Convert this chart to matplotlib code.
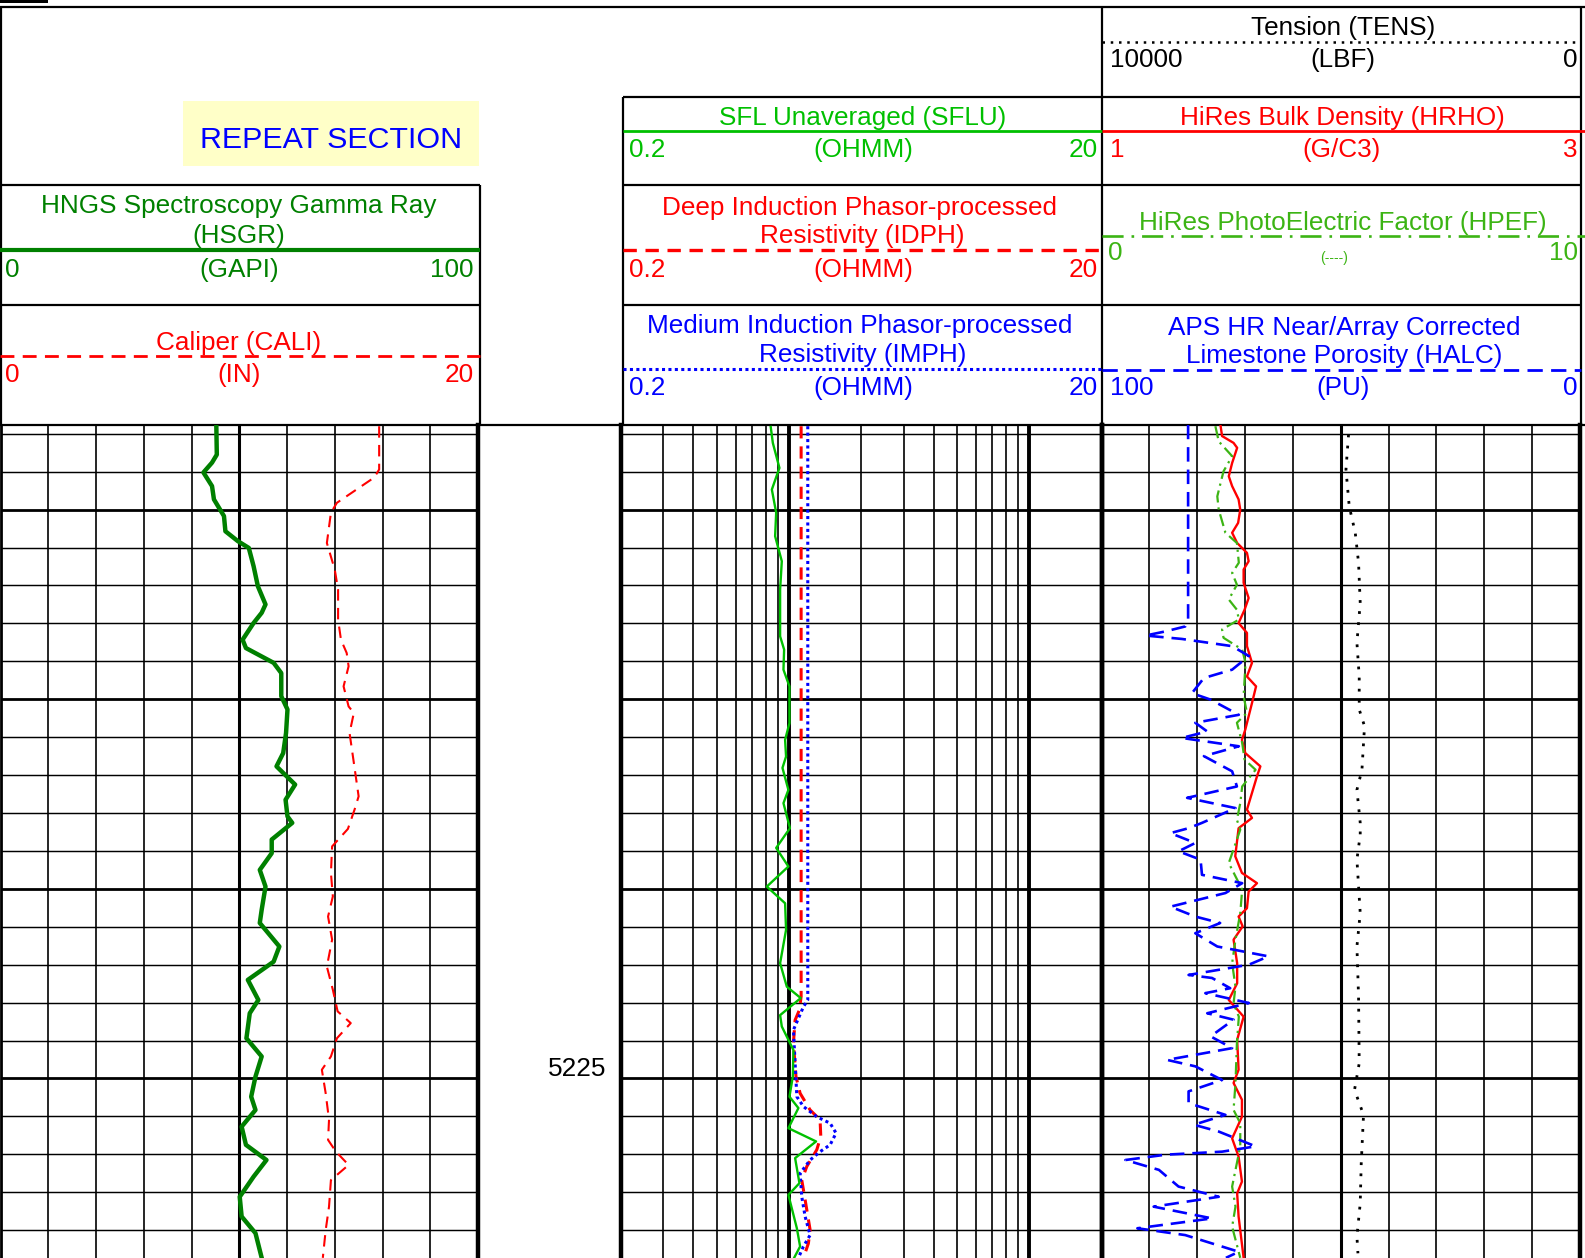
import numpy as np
import matplotlib
matplotlib.use("Agg")
import matplotlib.pyplot as plt
from matplotlib.patches import Rectangle

plt.rcParams["font.family"] = ["Liberation Sans", "DejaVu Sans"]

W, H = 1585, 1258
TOP, BOT = 5207.755, 5229.734   # depth (ft) at top / bottom of the log grid
DEPTH_LABELS = [5225]

# ---------- curves (depth ft, value) ----------
gr_d = [5207.80, 5208.55, 5208.76, 5209.02, 5209.38, 5209.73, 5210.17, 5210.57, 5210.83, 5211.01,
        5211.49, 5212.02, 5212.50, 5212.72, 5212.99, 5213.43, 5213.65, 5214.04, 5214.31, 5214.92,
        5215.27, 5215.89, 5216.42, 5216.77, 5217.25, 5217.65, 5218.09, 5218.26, 5218.70, 5219.06,
        5219.50, 5219.94, 5220.55, 5220.90, 5221.52, 5221.92, 5222.40, 5222.93, 5223.28, 5223.94,
        5224.42, 5224.95, 5225.48, 5225.83, 5226.27, 5226.75, 5227.15, 5227.59, 5228.12, 5228.64,
        5229.08, 5229.73]
gr_v = [45.2, 45.3, 44.3, 42.5, 44.3, 44.7, 46.8, 47.1, 49.7, 52.0,
        53.0, 53.9, 55.5, 54.7, 53.0, 50.7, 51.4, 57.2, 58.8, 58.8,
        60.1, 59.8, 59.2, 57.8, 61.7, 59.7, 60.1, 61.1, 56.8, 56.8,
        54.3, 55.5, 54.7, 54.3, 58.4, 57.2, 51.8, 54.0, 52.2, 51.5,
        54.7, 53.4, 52.5, 53.4, 50.5, 51.4, 55.7, 53.0, 50.1, 50.5,
        53.4, 54.7]

cali_d = [5207.80, 5208.94, 5209.15, 5209.82, 5210.08, 5210.88, 5211.58, 5212.11, 5212.90, 5213.43,
          5213.78, 5214.13, 5214.66, 5215.19, 5215.36, 5215.89, 5216.59, 5217.56, 5217.91, 5218.42,
          5218.88, 5219.58, 5220.20, 5220.73, 5221.34, 5222.05, 5222.66, 5223.23, 5223.54, 5223.94,
          5224.42, 5224.77, 5225.39, 5226.09, 5226.62, 5226.93, 5227.28, 5227.68, 5228.38, 5229.00,
          5229.73]
cali_v = [15.86, 15.86, 15.66, 14.09, 13.84, 13.67, 14.00, 14.14, 14.14, 14.26,
          14.50, 14.58, 14.37, 14.58, 14.80, 14.62, 14.78, 15.00, 14.83, 14.55,
          13.89, 13.84, 13.92, 13.72, 13.89, 13.67, 13.92, 14.12, 14.67, 14.09,
          13.84, 13.46, 13.62, 13.76, 13.72, 14.05, 14.58, 13.84, 13.76, 13.62,
          13.50]

sflu_d = [5207.82, 5208.24, 5208.90, 5209.47, 5210.08, 5210.70, 5211.36, 5212.11, 5213.34, 5213.69,
          5214.22, 5214.66, 5215.63, 5216.07, 5216.51, 5216.81, 5217.39, 5217.74, 5218.40, 5218.92,
          5219.41, 5219.94, 5220.38, 5221.08, 5221.96, 5222.58, 5222.88, 5223.33, 5223.63, 5224.25,
          5224.95, 5225.48, 5225.78, 5226.31, 5226.66, 5227.10, 5227.76, 5228.07, 5228.95, 5229.43,
          5229.73]
sflu_v = [0.840, 0.857, 0.913, 0.849, 0.885, 0.876, 0.934, 0.919, 0.919, 0.955,
          0.949, 1.005, 1.005, 0.964, 0.973, 0.940, 0.995, 0.949, 1.010, 0.885,
          0.995, 0.809, 0.964, 0.973, 0.919, 0.980, 1.120, 0.919, 0.934, 1.044,
          1.038, 1.005, 1.095, 0.995, 1.297, 1.061, 1.106, 0.995, 1.079, 1.113,
          1.051]

idph_d = [5207.80, 5222.84, 5223.19, 5223.46, 5224.07, 5224.95, 5225.39, 5225.83, 5226.09, 5226.53,
          5226.88, 5227.32, 5227.68, 5228.20, 5228.99, 5229.35, 5229.73]
idph_v = [1.124, 1.124, 1.106, 1.061, 1.044, 1.070, 1.113, 1.225, 1.348, 1.357,
          1.306, 1.187, 1.131, 1.168, 1.225, 1.205, 1.149]

imph_d = [5207.80, 5222.93, 5223.11, 5223.72, 5224.60, 5225.48, 5225.74, 5226.01, 5226.18, 5226.44,
          5226.75, 5226.93, 5227.15, 5227.50, 5228.12, 5228.64, 5229.13, 5229.43, 5229.73]
imph_v = [1.198, 1.198, 1.149, 1.044, 1.061, 1.079, 1.149, 1.306, 1.484, 1.571,
          1.484, 1.348, 1.225, 1.113, 1.131, 1.168, 1.225, 1.149, 1.095]

hrho_d = [5207.76, 5208.06, 5208.24, 5208.37, 5208.77, 5209.12, 5209.38, 5209.73, 5210.00, 5210.35,
          5210.61, 5210.88, 5211.14, 5211.36, 5211.58, 5211.93, 5212.33, 5212.64, 5212.99, 5213.25,
          5213.60, 5214.04, 5214.40, 5214.66, 5215.10, 5215.80, 5216.07, 5216.42, 5216.77, 5217.03,
          5217.91, 5218.13, 5218.40, 5219.14, 5219.58, 5219.85, 5220.07, 5220.51, 5220.73, 5220.99,
          5221.34, 5221.96, 5222.49, 5222.93, 5223.37, 5223.98, 5224.77, 5225.12, 5225.56, 5226.01,
          5226.58, 5227.06, 5227.72, 5228.03, 5228.64, 5229.73]
hrho_v = [1.497, 1.504, 1.552, 1.567, 1.546, 1.532, 1.546, 1.573, 1.580, 1.571,
          1.546, 1.567, 1.608, 1.615, 1.594, 1.594, 1.615, 1.598, 1.573, 1.608,
          1.608, 1.629, 1.608, 1.646, 1.629, 1.601, 1.587, 1.601, 1.664, 1.650,
          1.608, 1.629, 1.573, 1.559, 1.587, 1.650, 1.615, 1.608, 1.573, 1.590,
          1.552, 1.567, 1.567, 1.532, 1.594, 1.567, 1.573, 1.552, 1.587, 1.587,
          1.546, 1.573, 1.587, 1.567, 1.573, 1.594]

hpef_d = [5207.80, 5208.20, 5208.59, 5208.99, 5209.34, 5209.65, 5210.00, 5210.61, 5210.88, 5211.40,
          5211.67, 5211.98, 5212.37, 5212.64, 5212.90, 5213.16, 5213.38, 5213.69, 5214.04, 5214.92,
          5215.36, 5215.62, 5216.15, 5216.59, 5216.86, 5217.30, 5217.74, 5218.18, 5218.44, 5219.32,
          5220.02, 5220.64, 5221.34, 5221.96, 5222.58, 5223.02, 5223.37, 5224.07, 5225.12, 5225.83,
          5226.18, 5226.79, 5227.85, 5228.38, 5228.91, 5229.73]
hpef_v = [2.38, 2.45, 2.73, 2.55, 2.48, 2.42, 2.45, 2.59, 2.83, 2.87,
          2.73, 2.83, 2.66, 2.83, 2.87, 2.52, 2.55, 2.94, 3.01, 2.97,
          3.04, 2.83, 2.94, 2.99, 3.22, 2.94, 2.90, 2.83, 2.90, 2.66,
          2.94, 2.90, 2.80, 2.73, 2.80, 2.76, 2.87, 2.83, 2.80, 2.76,
          2.90, 2.90, 2.73, 2.80, 2.73, 2.90]

halc_d = [5207.76, 5212.90, 5213.08, 5213.21, 5213.32, 5213.41, 5213.60, 5213.86, 5214.22, 5214.44,
          5214.84, 5215.01, 5215.41, 5215.62, 5215.85, 5216.02, 5216.24, 5216.50, 5216.90, 5217.30,
          5217.60, 5217.87, 5218.26, 5218.40, 5218.53, 5218.79, 5219.01, 5219.23, 5219.63, 5219.85,
          5220.11, 5220.47, 5220.73, 5220.90, 5221.17, 5221.52, 5221.78, 5222.00, 5222.27, 5222.35,
          5222.62, 5222.75, 5223.01, 5223.28, 5223.45, 5223.89, 5224.20, 5224.51, 5224.68, 5225.04,
          5225.34, 5225.65, 5225.96, 5226.22, 5226.40, 5226.79, 5226.93, 5227.01, 5227.15, 5227.41,
          5227.85, 5228.12, 5228.38, 5228.69, 5228.95, 5229.13, 5229.57, 5229.73]
halc_v = [81.9, 81.9, 82.5, 86.6, 90.8, 83.2, 72.7, 69.2, 72.7, 78.6,
          81.1, 77.2, 71.3, 80.4, 77.9, 83.2, 71.3, 78.6, 72.7, 71.7,
          82.1, 72.0, 79.0, 81.8, 85.6, 80.4, 83.9, 79.3, 79.0, 70.6,
          74.1, 85.6, 80.4, 75.2, 80.4, 75.8, 65.1, 69.2, 81.8, 76.9,
          73.1, 78.3, 69.2, 77.9, 72.4, 77.2, 72.7, 86.3, 80.4, 74.8,
          81.8, 81.8, 74.1, 80.7, 75.5, 67.8, 74.8, 86.6, 95.0, 88.0,
          83.9, 75.5, 89.1, 76.9, 92.5, 82.5, 71.3, 74.0]

tens_d = [5208.02, 5208.94, 5209.91, 5210.61, 5211.40, 5212.46, 5213.51, 5214.40, 5215.27, 5215.71,
          5216.86, 5217.39, 5218.26, 5218.57, 5219.23, 5220.64, 5221.52, 5222.84, 5224.60, 5225.30,
          5225.96, 5227.24, 5228.29, 5229.17, 5229.61]
tens_v = [4837, 4891, 4823, 4697, 4628, 4593, 4662, 4614, 4614, 4503,
          4557, 4662, 4593, 4593, 4662, 4593, 4662, 4628, 4614, 4712,
          4524, 4572, 4593, 4662, 4641]

# ---------- styles ----------
DKGREEN, GREEN, PEFGREEN = "#008000", "#00C000", "#3CB414"
RED, BLUE, BLACK = "#FF0000", "#0000FF", "#000000"
FS = 18.8
sty = {
    "gr":   dict(color=DKGREEN, lw=3.2, ls="-"),
    "cali": dict(color=RED, lw=1.5, ls=(0, (5.5, 3.5))),
    "sflu": dict(color=GREEN, lw=1.7, ls="-"),
    "idph": dict(color=RED, lw=2.2, ls=(0, (4, 2.6))),
    "imph": dict(color=BLUE, lw=2.2, ls=(0, (1, 1.1))),
    "hrho": dict(color=RED, lw=1.7, ls="-"),
    "hpef": dict(color=PEFGREEN, lw=1.6, ls=(0, (5.5, 2.2, 1, 2.2))),
    "halc": dict(color=BLUE, lw=1.9, ls=(0, (5.5, 3))),
    "tens": dict(color=BLACK, lw=2.0, ls=(0, (1, 3))),
}

fig = plt.figure(figsize=(W / 100, H / 100), dpi=100)
bg = fig.add_axes([0, 0, 1, 1])
bg.set_xlim(0, W); bg.set_ylim(H, 0); bg.axis("off")


def hline(y, x0, x1, **kw):
    kw.setdefault("color", "k"); kw.setdefault("lw", 1.3)
    bg.plot([x0, x1], [y, y], solid_capstyle="butt", **kw)


def vline(x, y0, y1, **kw):
    kw.setdefault("color", "k"); kw.setdefault("lw", 1.3)
    bg.plot([x, x], [y0, y1], solid_capstyle="butt", **kw)


def txt(x, y, s, ha="center", color="k", size=FS):
    bg.text(x, y, s, ha=ha, va="baseline", color=color, fontsize=size)


# ---------- header ----------
bg.add_patch(Rectangle((0, 0), 48, 2.5, color="k", lw=0))
hline(7, 0, W, lw=1.6)
hline(424.5, 0, W, lw=1.6)
vline(0.8, 7, 424.5, lw=1.6)
vline(1102, 7, 424.5, lw=1.6)
vline(1581, 7, 424.5, lw=1.6)
vline(622.5, 97, 424.5, lw=1.6)
vline(479.5, 185, 424.5, lw=1.6)
hline(97, 622.5, 1581, lw=1.6)
for y in (185, 305):
    hline(y, 0, 479.5, lw=1.6)
    hline(y, 622.5, 1581, lw=1.6)

bg.add_patch(Rectangle((183, 101), 296, 65, color="#FFFFC8", lw=0))
txt(331, 148, "REPEAT SECTION", color=BLUE, size=21.9)

# track 1
txt(239, 213, "HNGS Spectroscopy Gamma Ray", color=DKGREEN)
txt(239, 243, "(HSGR)", color=DKGREEN)
hline(250, 0, 479.5, color=DKGREEN, lw=3.0)
txt(5, 277, "0", ha="left", color=DKGREEN); txt(239, 277, "(GAPI)", color=DKGREEN)
txt(474, 277, "100", ha="right", color=DKGREEN)
txt(239, 350, "Caliper (CALI)", color=RED)
bg.plot([0, 479.5], [356, 356], color=RED, lw=2.0, ls=(0, (5, 3)))
txt(5, 382, "0", ha="left", color=RED); txt(239, 382, "(IN)", color=RED)
txt(474, 382, "20", ha="right", color=RED)

# track 2
txt(863, 125, "SFL Unaveraged (SFLU)", color=GREEN)
hline(131, 622.5, 1102, color=GREEN, lw=2.0)
for xx, s, ha in ((629, "0.2", "left"), (863, "(OHMM)", "center"), (1098, "20", "right")):
    txt(xx, 157, s, ha=ha, color=GREEN)
txt(860, 215, "Deep Induction Phasor-processed", color=RED)
txt(862, 243, "Resistivity (IDPH)", color=RED)
bg.plot([622.5, 1102], [250, 250], color=RED, lw=2.4, ls=(0, (4, 2.6)))
for xx, s, ha in ((629, "0.2", "left"), (863, "(OHMM)", "center"), (1098, "20", "right")):
    txt(xx, 277, s, ha=ha, color=RED)
txt(860, 333, "Medium Induction Phasor-processed", color=BLUE)
txt(863, 362, "Resistivity (IMPH)", color=BLUE)
bg.plot([622.5, 1102], [369, 369], color=BLUE, lw=2.2, ls=(0, (1, 1.1)))
for xx, s, ha in ((629, "0.2", "left"), (863, "(OHMM)", "center"), (1098, "20", "right")):
    txt(xx, 395, s, ha=ha, color=BLUE)

# track 3
txt(1343, 35, "Tension (TENS)")
bg.plot([1102, 1581], [42, 42], color=BLACK, lw=1.8, ls=(0, (1, 2.3)))
txt(1110, 67, "10000", ha="left"); txt(1343, 67, "(LBF)"); txt(1578, 67, "0", ha="right")
txt(1342, 125, "HiRes Bulk Density (HRHO)", color=RED)
hline(131, 1102, W, color=RED, lw=2.0)
txt(1110, 157, "1", ha="left", color=RED); txt(1342, 157, "(G/C3)", color=RED)
txt(1578, 157, "3", ha="right", color=RED)
txt(1343, 230, "HiRes PhotoElectric Factor (HPEF)", color=PEFGREEN)
bg.plot([1102, W], [236, 236], color=PEFGREEN, lw=1.9, ls=(0, (8, 3, 1, 3)))
txt(1108, 260, "0", ha="left", color=PEFGREEN); txt(1578, 260, "10", ha="right", color=PEFGREEN)
txt(1334, 262, "(----)", color=PEFGREEN, size=10)
txt(1344, 335, "APS HR Near/Array Corrected", color=BLUE)
txt(1344, 363, "Limestone Porosity (HALC)", color=BLUE)
bg.plot([1102, 1581], [370, 370], color=BLUE, lw=2.0, ls=(0, (5.5, 3)))
txt(1110, 395, "100", ha="left", color=BLUE); txt(1343, 395, "(PU)", color=BLUE)
txt(1578, 395, "0", ha="right", color=BLUE)


# ---------- log grid tracks ----------
def track(x0, x1):
    ax = fig.add_axes([x0 / W, 0, (x1 - x0) / W, (H - 424.5) / H])
    ax.set_ylim(BOT, TOP)
    ax.axis("off")
    return ax


def depth_grid(ax):
    for d in range(int(np.ceil(TOP)), int(BOT) + 1):
        heavy = d % 5 == 0
        ax.axhline(d, color="k", lw=2.0 if heavy else 1.05, zorder=1)


t1 = track(0.5, 478)
t1.set_xlim(0, 100)
depth_grid(t1)
for g in range(10, 100, 10):
    t1.axvline(g, color="k", lw=2.2 if g == 50 else 1.2, zorder=1)
t1.axvline(0, color="k", lw=2.0, clip_on=False, zorder=2)
t1.axvline(100, color="k", lw=3.2, clip_on=False, zorder=2)
t1.plot(gr_v, gr_d, zorder=4, solid_joinstyle="round", **sty["gr"])
t1c = t1.twiny(); t1c.axis("off"); t1c.set_xlim(0, 20)
t1c.plot(cali_v, cali_d, zorder=3, **sty["cali"])

t2 = track(621, 1101.5)
t2.set_xscale("log"); t2.set_xlim(0.2, 20)
depth_grid(t2)
for g in [0.3, 0.4, 0.5, 0.6, 0.7, 0.8, 0.9, 2, 3, 4, 5, 6, 7, 8, 9]:
    t2.axvline(g, color="k", lw=1.2, zorder=1)
for g in (1, 10):
    t2.axvline(g, color="k", lw=2.8, zorder=1)
for g in (0.2, 20):
    t2.axvline(g, color="k", lw=3.2, clip_on=False, zorder=2)
t2.plot(sflu_v, sflu_d, zorder=4, **sty["sflu"])
t2.plot(idph_v, idph_d, zorder=3, **sty["idph"])
t2.plot(imph_v, imph_d, zorder=3, **sty["imph"])

t3 = track(1101.5, 1580)
t3.set_xlim(1, 3)
depth_grid(t3)
for k in range(1, 10):
    t3.axvline(1 + 0.2 * k, color="k", lw=2.2 if k == 5 else 1.2, zorder=1)
for g in (1, 3):
    t3.axvline(g, color="k", lw=3.2, clip_on=False, zorder=2)
t3.plot(hrho_v, hrho_d, zorder=5, **sty["hrho"])
t3p = t3.twiny(); t3p.axis("off"); t3p.set_xlim(0, 10)
t3p.plot(hpef_v, hpef_d, zorder=4, **sty["hpef"])
t3h = t3.twiny(); t3h.axis("off"); t3h.set_xlim(100, 0)
t3h.plot(halc_v, halc_d, zorder=3, **sty["halc"])
t3t = t3.twiny(); t3t.axis("off"); t3t.set_xlim(10000, 0)
t3t.plot(tens_v, tens_d, zorder=3, **sty["tens"])

# depth track labels
td = track(478, 621)
td.set_xlim(0, 1)
for d in DEPTH_LABELS:
    td.text(0.90, d - 0.25, str(d), ha="right", va="center", fontsize=FS)

fig.savefig("out.png", dpi=100)
